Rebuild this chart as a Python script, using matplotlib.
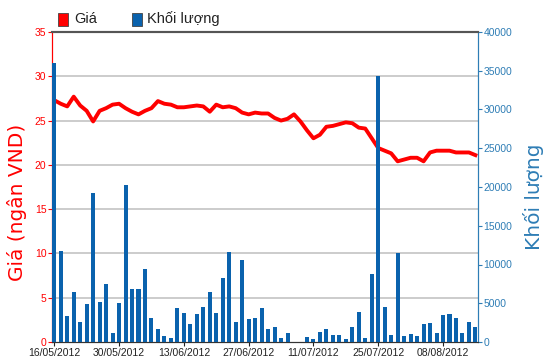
import matplotlib
matplotlib.use("Agg")
import matplotlib.pyplot as plt
import numpy as np

plt.rcParams['font.family'] = ['Liberation Sans', 'DejaVu Sans']

# Gia (nghin VND) va khoi luong theo phien giao dich, 16/05/2012 - 15/08/2012
price = [27.3, 26.9, 26.6, 27.7, 26.7, 26.1, 24.9, 26.1, 26.4, 26.8,
         26.9, 26.4, 26.0, 25.7, 26.1, 26.4, 27.2, 26.9, 26.8, 26.5,
         26.5, 26.6, 26.7, 26.6, 26.0, 26.8, 26.5, 26.6, 26.4, 25.9,
         25.7, 25.9, 25.8, 25.8, 25.3, 25.0, 25.2, 25.7, 24.9, 23.9,
         23.0, 23.4, 24.3, 24.4, 24.6, 24.8, 24.7, 24.2, 24.1, 23.0,
         21.9, 21.6, 21.3, 20.4, 20.6, 20.8, 20.8, 20.4, 21.4, 21.6,
         21.6, 21.6, 21.4, 21.4, 21.4, 21.1]
volume = [36000, 11700, 3300, 6450, 2620, 4860, 19200, 5160, 7440, 1160,
          5030, 20200, 6840, 6840, 9380, 3100, 1630, 730, 560, 4430,
          3740, 2320, 3610, 4560, 6450, 3740, 8260, 11650, 2620, 10540,
          2920, 3100, 4430, 1630, 1980, 560, 1160, 0, 0, 700,
          370, 1290, 1630, 880, 880, 390, 1980, 3910, 560, 8730,
          34300, 4560, 900, 11530, 730, 1030, 730, 2320, 2450, 1160,
          3440, 3610, 3100, 1160, 2620, 1980]
date_labels = ["16/05/2012", "30/05/2012", "13/06/2012", "27/06/2012",
               "11/07/2012", "25/07/2012", "08/08/2012"]

RED = "#ff0000"
BLUE = "#0a62ad"
AXBLUE = "#2e7db5"

x = np.arange(len(price))

fig = plt.figure(figsize=(5.5, 3.64), dpi=100)
ax = fig.add_axes([52/550, 1-342/364, (478-52)/550, (342-32)/364])
ax2 = ax.twinx()

ax.plot(x, price, color=RED, lw=2.8, solid_joinstyle='round', zorder=3)
ax2.bar(x, volume, width=0.62, color=BLUE, zorder=3)

ax.set_xlim(-0.35, 65.4)
ax.set_ylim(0, 35)
ax2.set_ylim(0, 40000)
ax.set_yticks(range(0, 36, 5))
ax2.set_yticks(range(0, 40001, 5000))
ax.set_xticks(range(0, 61, 10))
ax.set_xticklabels(date_labels)

for v in range(5, 35, 5):
    ax.axhline(v, color="#c8c8c8", lw=1.3, zorder=1)

ax.tick_params(axis='y', colors=RED, labelsize=7.5, length=3, pad=1)
ax2.tick_params(axis='y', colors=AXBLUE, labelsize=7.5, length=3, pad=1)
ax.tick_params(axis='x', colors="#222222", labelsize=7.5, length=3, pad=1)

for a in (ax, ax2):
    a.spines['left'].set_color(RED)
    a.spines['right'].set_color(AXBLUE)
    a.spines['top'].set_color("#555555")
    a.spines['bottom'].set_color("#333333")
    a.spines['top'].set_linewidth(1.5)

ax.set_ylabel("Giá (ngân VND)", color=RED, fontsize=14.5, family='DejaVu Sans')
ax2.set_ylabel("Khối lượng", color=AXBLUE, fontsize=14.5, family='DejaVu Sans', rotation=90)
ax.yaxis.set_label_coords(-0.058, 0.45)
ax2.yaxis.set_label_coords(1.105, 0.47)

# legend above the plot
fig.patches.append(plt.Rectangle((58/550, 1-26/364), 10/550, 13/364, transform=fig.transFigure,
                                 facecolor=RED, edgecolor="#444444", lw=0.6))
fig.text(74/550, 1-19/364, "Giá", fontsize=10.5, va='center', color="#222222")
fig.patches.append(plt.Rectangle((132/550, 1-26/364), 10/550, 13/364, transform=fig.transFigure,
                                 facecolor=BLUE, edgecolor="#444444", lw=0.6))
fig.text(147/550, 1-19/364, "Khối lượng", fontsize=10.5, va='center', color="#222222")

fig.savefig("out.png", dpi=100)
